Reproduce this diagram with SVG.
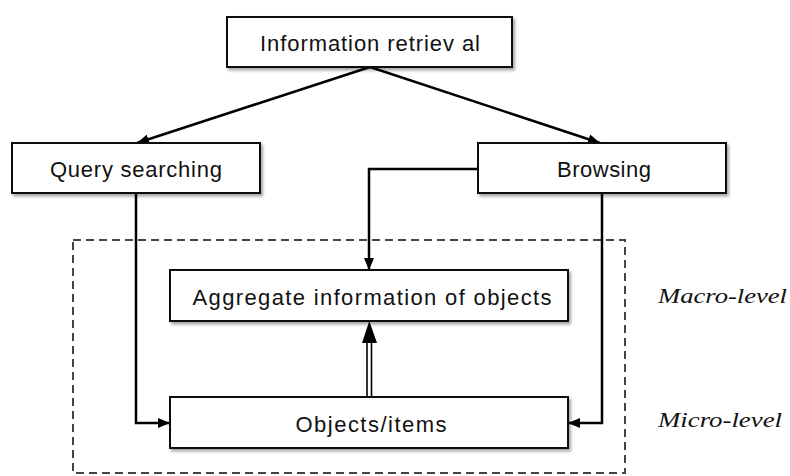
<svg xmlns="http://www.w3.org/2000/svg" width="790" height="476" viewBox="0 0 790 476">
  <defs>
    <filter id="shadow" x="-5%" y="-20%" width="115%" height="150%">
      <feDropShadow dx="2" dy="2.5" stdDeviation="1.6" flood-color="#000" flood-opacity="0.35"/>
    </filter>
    <marker id="arrow" viewBox="0 0 12 10" refX="12" refY="5" markerWidth="12" markerHeight="10" markerUnits="userSpaceOnUse" orient="auto">
      <path d="M0,0 L12,5 L0,10 Z" fill="#000"/>
    </marker>
    <style>
      .box { fill: #fff; stroke: #111; stroke-width: 2; filter: url(#shadow); }
      .label { font-family: "Liberation Sans", Arial, Helvetica, sans-serif; font-size: 22px; fill: #111; text-anchor: middle; }
      .level { font-family: "Liberation Serif", "DejaVu Serif", serif; font-style: italic; font-size: 22px; fill: #111; }
      .conn { fill: none; stroke: #000; stroke-width: 2.5; }
      .frame { fill: none; stroke: #444; stroke-width: 2; stroke-dasharray: 8 5; }
    </style>
  </defs>
  <rect width="790" height="476" fill="#fff"/>

  <!-- dashed region enclosing the item levels -->
  <rect class="frame" x="73" y="240" width="552" height="233"/>

  <!-- connectors -->
  <g id="connectors">
    <line class="conn" x1="370" y1="67" x2="137" y2="143" marker-end="url(#arrow)"/>
    <line class="conn" x1="370" y1="67" x2="600" y2="143" marker-end="url(#arrow)"/>
    <polyline class="conn" points="478,169 369,169 369,270" marker-end="url(#arrow)"/>
    <polyline class="conn" points="136,193 136,423 170,423" marker-end="url(#arrow)"/>
    <polyline class="conn" points="602,193 602,423 568,423" marker-end="url(#arrow)"/>
    <!-- double-line arrow from items up to aggregate -->
    <line x1="367" y1="397" x2="367" y2="341" stroke="#000" stroke-width="1.6"/>
    <line x1="371.5" y1="397" x2="371.5" y2="341" stroke="#000" stroke-width="1.6"/>
    <path d="M362,343 L369.3,321 L377,343 Z" fill="#000"/>
  </g>

  <g id="information-retrieval">
    <rect class="box" x="227" y="17" width="285" height="50"/>
    <text class="label" x="370" y="51" textLength="220" lengthAdjust="spacing">Information retriev al</text>
  </g>

  <g id="query-searching">
    <rect class="box" x="12" y="143" width="248" height="50"/>
    <text class="label" x="136" y="177" textLength="172" lengthAdjust="spacing">Query searching</text>
  </g>

  <g id="browsing">
    <rect class="box" x="478" y="143" width="248" height="50"/>
    <text class="label" x="604" y="177" textLength="94" lengthAdjust="spacing">Browsing</text>
  </g>

  <g id="aggregate-information">
    <rect class="box" x="170" y="270" width="398" height="51"/>
    <text class="label" x="372" y="305" textLength="359" lengthAdjust="spacing">Aggregate information of objects</text>
  </g>

  <g id="objects-items">
    <rect class="box" x="170" y="397" width="398" height="51"/>
    <text class="label" x="371" y="432" textLength="151" lengthAdjust="spacing">Objects/items</text>
  </g>

  <g id="level-labels">
    <text class="level" x="658" y="303" textLength="129" lengthAdjust="spacingAndGlyphs">Macro-level</text>
    <text class="level" x="658" y="427" textLength="124" lengthAdjust="spacingAndGlyphs">Micro-level</text>
  </g>
</svg>
